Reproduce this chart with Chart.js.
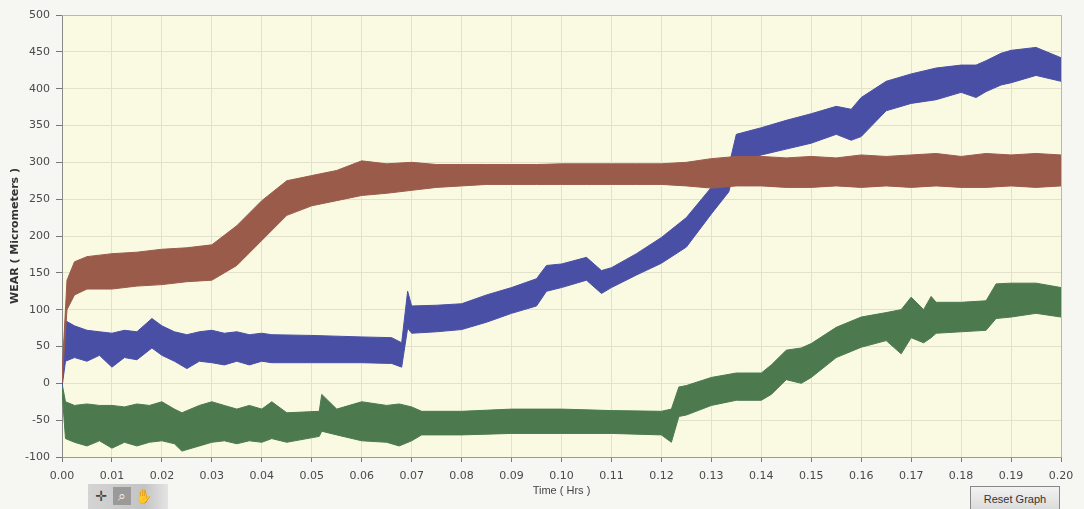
<!DOCTYPE html>
<html>
<head>
<meta charset="utf-8">
<script src="https://cdn.jsdelivr.net/npm/chart.js@4.4.1/dist/chart.umd.min.js"></script>
<style>
	html, body { margin: 0; padding: 0; background: #f6f6f3; }
	#wrap { position: relative; width: 1084px; height: 509px; overflow: hidden; }
	#palette {
		position: absolute; left: 88px; top: 484px; width: 80px; height: 25px;
		background: linear-gradient(to right, #d4d4d4, #c4c4c4 70%, #e4e4e4);
	}
	#palette span {
		position: absolute; top: 3px; width: 18px; height: 18px;
		font: 14px "DejaVu Sans", sans-serif; color: #444; text-align: center; line-height: 18px;
	}
	#reset {
		position: absolute; left: 970px; top: 486px; width: 88px; height: 22px;
		border: 1px solid #888; background: linear-gradient(#f2f2f2, #dcdcdc);
		font: 11px "Liberation Sans", sans-serif; color: #333; text-align: center; line-height: 24px;
	}
</style>
</head>
<body>
<div id="wrap">
	<canvas id="canvas" width="1084" height="509"></canvas>
	<div id="palette"><span style="left:4px">✛</span><span style="left:25px;background:#9a9a9a;color:#eee">⌕</span><span style="left:46px">✋</span></div>
	<div id="reset">Reset Graph</div>
</div>
<script>
// Values: each trace is a noisy band, kept as its low / high edge.
const redTimes = [0, 0.001, 0.0025, 0.005, 0.01, 0.015, 0.02, 0.025, 0.03, 0.035, 0.04, 0.045, 0.05, 0.055, 0.06, 0.065, 0.07, 0.075, 0.08, 0.085, 0.09, 0.095, 0.1, 0.105, 0.11, 0.115, 0.12, 0.125, 0.13, 0.135, 0.14, 0.145, 0.15, 0.155, 0.16, 0.165, 0.17, 0.175, 0.18, 0.185, 0.19, 0.195, 0.2]
const redLow = [0, 100, 120, 128, 128, 132, 134, 138, 140, 160, 194, 228, 241, 248, 255, 258, 262, 266, 268, 270, 270, 270, 270, 270, 270, 270, 270, 268, 265, 268, 268, 266, 266, 268, 266, 268, 266, 268, 266, 266, 268, 266, 268]
const redHigh = [10, 140, 165, 172, 176, 178, 182, 184, 188, 214, 248, 275, 282, 289, 302, 298, 300, 297, 297, 297, 297, 297, 298, 298, 298, 298, 298, 300, 305, 308, 308, 306, 308, 306, 310, 308, 310, 312, 308, 312, 310, 312, 310]

const blueTimes = [0, 0.0007, 0.0025, 0.005, 0.0075, 0.01, 0.0125, 0.015, 0.018, 0.02, 0.0225, 0.025, 0.0275, 0.03, 0.0325, 0.035, 0.0375, 0.04, 0.042, 0.05, 0.06, 0.066, 0.068, 0.0692, 0.07, 0.075, 0.08, 0.085, 0.09, 0.095, 0.097, 0.1, 0.105, 0.108, 0.11, 0.115, 0.12, 0.125, 0.13, 0.1335, 0.135, 0.14, 0.145, 0.15, 0.155, 0.158, 0.16, 0.165, 0.17, 0.175, 0.18, 0.183, 0.185, 0.188, 0.19, 0.195, 0.2]
const blueLow = [-5, 30, 35, 30, 38, 22, 35, 32, 48, 38, 30, 20, 30, 28, 25, 30, 25, 30, 28, 28, 28, 27, 22, 75, 68, 70, 73, 83, 95, 105, 125, 130, 140, 122, 130, 147, 163, 185, 230, 260, 300, 310, 318, 326, 338, 330, 335, 370, 380, 385, 395, 388, 396, 405, 408, 418, 410]
const blueHigh = [5, 85, 78, 72, 70, 68, 72, 70, 88, 78, 70, 66, 70, 72, 68, 70, 66, 68, 66, 65, 63, 62, 55, 125, 105, 106, 108, 120, 130, 142, 160, 162, 171, 153, 157, 176, 198, 225, 266, 295, 338, 347, 357, 366, 376, 372, 388, 410, 420, 428, 432, 432, 438, 448, 452, 456, 442]

const greenTimes = [0, 0.0007, 0.0025, 0.005, 0.0075, 0.01, 0.0125, 0.015, 0.0175, 0.02, 0.0225, 0.024, 0.0275, 0.03, 0.0325, 0.035, 0.0375, 0.04, 0.042, 0.045, 0.0515, 0.052, 0.055, 0.06, 0.065, 0.0675, 0.07, 0.072, 0.08, 0.09, 0.1, 0.11, 0.12, 0.122, 0.1235, 0.125, 0.13, 0.135, 0.14, 0.142, 0.145, 0.148, 0.15, 0.155, 0.16, 0.165, 0.168, 0.17, 0.1725, 0.174, 0.175, 0.18, 0.185, 0.187, 0.19, 0.195, 0.2]
const greenLow = [-10, -75, -80, -85, -78, -88, -80, -85, -80, -78, -82, -92, -85, -80, -78, -82, -78, -80, -75, -80, -72, -65, -70, -78, -80, -85, -78, -70, -70, -68, -68, -68, -70, -80, -45, -43, -30, -23, -23, -15, 5, 0, 8, 35, 49, 58, 40, 62, 55, 62, 68, 70, 72, 88, 90, 95, 90]
const greenHigh = [0, -25, -30, -28, -30, -30, -32, -28, -30, -25, -35, -40, -30, -25, -30, -35, -30, -35, -25, -40, -38, -15, -35, -25, -30, -28, -32, -38, -38, -35, -35, -37, -38, -35, -5, -3, 8, 14, 14, 25, 45, 48, 54, 76, 90, 96, 100, 117, 100, 118, 110, 110, 112, 135, 136, 136, 130]

const timeTicks = [0, 0.01, 0.02, 0.03, 0.04, 0.05, 0.06, 0.07, 0.08, 0.09, 0.1, 0.11, 0.12, 0.13, 0.14, 0.15, 0.16, 0.17, 0.18, 0.19, 0.2]

const colors = {
	red: '#9b5b4b',
	blue: '#4a4fa6',
	green: '#4c7a4e',
}

const toPoints = (times, values) => times.map((t, i) => ({ x: t, y: values[i] }))

const band = (times, low, high, color, lowIndex) => [
	{ data: toPoints(times, low), borderColor: color, borderWidth: 1, pointRadius: 0, fill: false },
	{ data: toPoints(times, high), borderColor: color, borderWidth: 1, pointRadius: 0, backgroundColor: color, fill: lowIndex },
]

const plotBackground = {
	id: 'plotBackground',
	beforeDraw(chart) {
		const { ctx, chartArea: a } = chart
		ctx.save()
		ctx.fillStyle = '#fafae2'
		ctx.fillRect(a.left, a.top, a.right - a.left, a.bottom - a.top)
		ctx.restore()
	},
	afterDraw(chart) {
		const { ctx, chartArea: a } = chart
		ctx.save()
		ctx.strokeStyle = '#b8b8b0'
		ctx.lineWidth = 1
		ctx.beginPath()
		ctx.moveTo(a.left, a.top + 0.5)
		ctx.lineTo(a.right + 0.5, a.top + 0.5)
		ctx.lineTo(a.right + 0.5, a.bottom)
		ctx.stroke()
		ctx.restore()
	},
}

const chart = new Chart(document.getElementById('canvas'), {
	type: 'line',
	data: {
		datasets: [
			...band(redTimes, redLow, redHigh, colors.red, 0),
			...band(blueTimes, blueLow, blueHigh, colors.blue, 2),
			...band(greenTimes, greenLow, greenHigh, colors.green, 4),
		],
	},
	options: {
		responsive: false,
		animation: false,
		layout: { padding: { left: 0, top: 15, right: 23, bottom: 0 } },
		plugins: { legend: { display: false }, tooltip: { enabled: false } },
		elements: { line: { tension: 0 } },
		scales: {
			x: {
				type: 'linear',
				min: 0,
				max: 0.2,
				afterBuildTicks: scale => { scale.ticks = timeTicks.map(value => ({ value })) },
				afterFit: scale => { scale.height = 52 },
				ticks: {
					padding: 8,
					color: '#4a4a4a',
					font: { family: 'DejaVu Sans', size: 11 },
					callback: value => value.toFixed(2),
					maxRotation: 0,
					autoSkip: false,
				},
				grid: { color: '#e2e2cc', tickColor: '#777', tickLength: 5 },
				border: { color: '#9a9a98' },
				title: {
					display: true,
					text: 'Time ( Hrs )',
					color: '#444',
					font: { family: 'Liberation Sans', size: 11 },
					padding: { top: 0, bottom: 11 },
				},
			},
			y: {
				min: -100,
				max: 500,
				afterFit: scale => { scale.width = 62 },
				ticks: {
					stepSize: 50,
					padding: 6,
					color: '#4a4a4a',
					font: { family: 'DejaVu Sans', size: 11 },
				},
				grid: { color: '#e2e2cc', tickColor: '#777', tickLength: 6 },
				border: { color: '#8a8a88' },
				title: {
					display: true,
					text: 'WEAR ( Micrometers )',
					color: '#333',
					font: { family: 'DejaVu Sans', size: 11, weight: 'bold' },
					padding: { top: 9, bottom: 0 },
				},
			},
		},
	},
	plugins: [plotBackground],
})
</script>
</body>
</html>
